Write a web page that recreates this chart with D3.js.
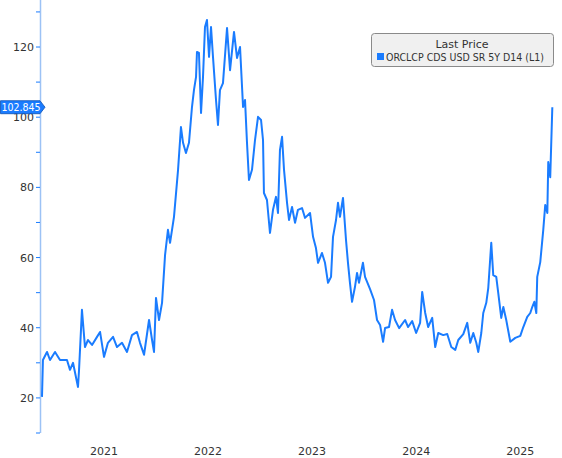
<!DOCTYPE html>
<html><head><meta charset="utf-8">
<script src="https://cdn.jsdelivr.net/npm/d3@7"></script>
<style>body{margin:0;background:#fff}</style></head>
<body><svg id="c" width="562" height="458"></svg>
<script>
const years = [2020.904,2020.913,2020.952,2020.981,2021.029,2021.077,2021.144,2021.173,2021.202,2021.250,2021.260,2021.288,2021.317,2021.346,2021.385,2021.433,2021.462,2021.500,2021.538,2021.587,2021.625,2021.673,2021.721,2021.769,2021.817,2021.846,2021.885,2021.933,2021.962,2021.981,2022.000,2022.029,2022.058,2022.087,2022.115,2022.135,2022.173,2022.212,2022.240,2022.260,2022.288,2022.317,2022.346,2022.365,2022.385,2022.394,2022.413,2022.433,2022.452,2022.471,2022.490,2022.510,2022.529,2022.548,2022.577,2022.596,2022.615,2022.644,2022.683,2022.712,2022.750,2022.779,2022.808,2022.837,2022.856,2022.875,2022.894,2022.923,2022.952,2022.981,2023.010,2023.029,2023.038,2023.067,2023.096,2023.125,2023.154,2023.173,2023.192,2023.212,2023.231,2023.260,2023.279,2023.308,2023.337,2023.365,2023.404,2023.433,2023.481,2023.510,2023.538,2023.558,2023.596,2023.625,2023.654,2023.683,2023.702,2023.731,2023.750,2023.769,2023.798,2023.827,2023.846,2023.865,2023.885,2023.913,2023.933,2023.952,2023.990,2024.010,2024.058,2024.096,2024.125,2024.154,2024.183,2024.202,2024.240,2024.269,2024.298,2024.337,2024.394,2024.423,2024.462,2024.500,2024.538,2024.558,2024.587,2024.615,2024.654,2024.683,2024.712,2024.760,2024.798,2024.837,2024.875,2024.904,2024.952,2024.990,2025.019,2025.048,2025.077,2025.096,2025.125,2025.144,2025.173,2025.192,2025.221,2025.240,2025.269,2025.288,2025.317,2025.337,2025.365,2025.404,2025.452,2025.500,2025.529,2025.567,2025.596,2025.615,2025.635,2025.654,2025.663,2025.692,2025.721,2025.740,2025.760,2025.769,2025.788,2025.808];
const prices = [20.3,30.8,33.1,30.8,33.1,30.8,30.8,28.0,30.0,23.1,28.0,45.1,34.5,36.5,35.1,37.4,38.8,31.7,35.7,37.4,34.5,35.7,33.1,37.9,38.8,35.7,32.3,42.2,36.5,33.1,48.5,42.2,47.1,60.7,67.9,64.2,71.6,85.0,97.2,92.7,89.8,92.7,102.9,107.7,111.5,118.6,118.3,101.2,111.5,125.7,127.7,117.2,125.7,117.2,104.9,97.8,107.7,109.7,125.4,113.4,124.3,116.9,120.0,102.9,104.9,92.7,82.1,85.0,93.5,100.1,99.2,93.5,78.4,76.4,67.0,73.6,77.3,72.7,90.7,94.4,85.0,75.6,70.7,74.4,69.9,73.6,74.1,71.3,72.7,65.9,62.7,58.5,61.3,58.5,52.8,54.5,65.9,70.7,75.6,71.6,77.0,65.0,58.5,52.8,47.4,51.6,55.6,52.8,58.5,54.5,51.0,47.9,42.2,40.8,36.0,39.9,40.2,45.1,42.2,39.9,42.2,40.2,41.9,38.5,41.4,50.2,44.2,40.2,42.8,34.5,38.5,37.9,38.2,34.5,33.7,36.5,38.2,41.4,35.7,38.5,35.7,33.1,38.5,44.2,47.1,51.3,64.2,55.0,54.5,49.9,42.8,45.9,42.2,36.0,37.1,37.7,40.2,43.1,44.2,45.9,47.4,44.2,54.5,58.7,67.9,75.0,72.7,87.2,82.9,102.845];
const yTicks = [20,40,60,80,100,120];
const xLabels = ["2021","2022","2023","2024","2025"];
const legendTitle = "Last Price";
const seriesName = "ORCLCP CDS USD SR 5Y D14  (L1)";
const lastValue = "102.845";

const toDate = y => { const yr = Math.floor(y); const s = new Date(yr,0,1), e = new Date(yr+1,0,1); return new Date(+s + (y-yr)*(e-s)); };
const data = years.map((y,i)=>({d:toDate(y), v:prices[i]}));
const svg = d3.select("#c");
const blue = "#1a7cff";
const x = d3.scaleTime().domain([new Date(2021,0,1), new Date(2022,0,1)]).range([52,156]);
const y = d3.scaleLinear().domain([10,133.4]).range([433,0]);
const font = "Tahoma, 'DejaVu Sans', sans-serif";
const cfont = "'DejaVu Sans Condensed', 'Liberation Sans Narrow', sans-serif";

svg.append("line").attr("x1",40.5).attr("x2",40.5).attr("y1",0).attr("y2",433).attr("stroke","#9cc2f5").attr("stroke-width",1.5);
const minor = d3.range(10,134,10);
svg.selectAll(".mt").data(minor).join("line").attr("x1",36).attr("x2",40).attr("y1",d=>y(d)).attr("y2",d=>y(d)).attr("stroke",blue).attr("stroke-width",1);
svg.selectAll(".yl").data(yTicks).join("text").attr("x",34).attr("y",d=>y(d)+4).attr("text-anchor","end")
  .attr("font-family",font).attr("font-size",11).attr("fill","#333").text(d=>d);
svg.selectAll(".xl").data(xLabels).join("text").attr("x",d=>x(toDate(+d+0.5))).attr("y",455).attr("text-anchor","middle")
  .attr("font-family",font).attr("font-size",11).attr("fill","#333").text(d=>d);

svg.append("path").datum(data).attr("fill","none").attr("stroke",blue).attr("stroke-width",2).attr("stroke-linejoin","round")
  .attr("d", d3.line().x(d=>x(d.d)).y(d=>y(d.v)));

const ly = y(prices[prices.length-1]);
svg.append("path").attr("d",`M0.5,${ly-6.5}H40L45,${ly}L40,${ly+6.5}H0.5Z`).attr("fill",blue).attr("stroke","#0b4fb3").attr("stroke-width",0.8);
svg.append("text").attr("x",21).attr("y",ly+3.5).attr("text-anchor","middle").attr("font-family",cfont).attr("font-size",10.5).attr("fill","#fff").text(lastValue);

const lg = svg.append("g");
lg.append("rect").attr("x",371.5).attr("y",33.5).attr("width",182).attr("height",33).attr("rx",3).attr("fill","#f0f0f0").attr("stroke","#8a8a8a");
lg.append("text").attr("x",462).attr("y",48).attr("text-anchor","middle").attr("font-family",font).attr("font-size",11).attr("fill","#333").text(legendTitle);
lg.append("rect").attr("x",377).attr("y",53).attr("width",7).attr("height",7).attr("fill",blue);
lg.append("text").attr("x",386).attr("y",61).attr("font-family",cfont).attr("font-size",10.5).attr("fill","#333").text(seriesName);
</script></body></html>
